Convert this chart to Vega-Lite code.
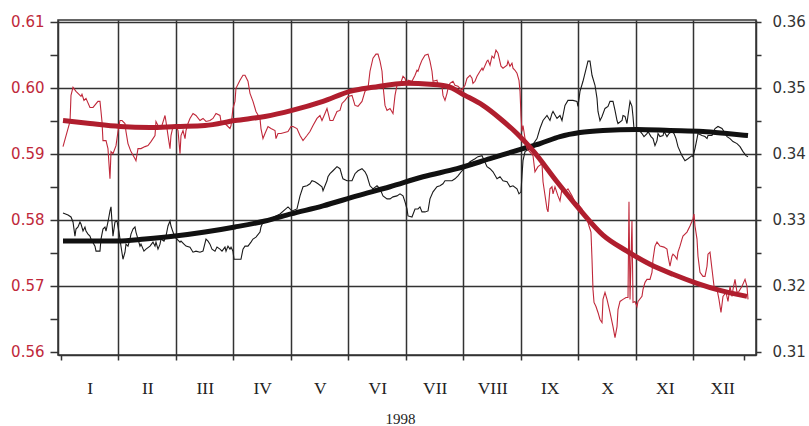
{
"$schema":"https://vega.github.io/schema/vega-lite/v6.json",
"width":698,"height":335,"autosize":"none",
"padding":{"left":58,"top":20,"right":53,"bottom":71},
"background":"white",
"config":{"view":{"stroke":"#333","strokeWidth":1.5}},
"datasets":{
"redRaw":[{"m":0.035,"v":0.5911},{"m":0.122,"v":0.59384},{"m":0.157,"v":0.59491},{"m":0.174,"v":0.59887},{"m":0.209,"v":0.60009},{"m":0.261,"v":0.59948},{"m":0.348,"v":0.59872},{"m":0.365,"v":0.59903},{"m":0.4,"v":0.59811},{"m":0.435,"v":0.59842},{"m":0.504,"v":0.59704},{"m":0.557,"v":0.59704},{"m":0.643,"v":0.59796},{"m":0.678,"v":0.59796},{"m":0.696,"v":0.59643},{"m":0.713,"v":0.59491},{"m":0.73,"v":0.59201},{"m":0.783,"v":0.59201},{"m":0.817,"v":0.5908},{"m":0.852,"v":0.58622},{"m":0.87,"v":0.59034},{"m":0.904,"v":0.59003},{"m":0.957,"v":0.59125},{"m":0.991,"v":0.59339},{"m":1.026,"v":0.59506},{"m":1.061,"v":0.59506},{"m":1.113,"v":0.5946},{"m":1.13,"v":0.59339},{"m":1.165,"v":0.59156},{"m":1.217,"v":0.59034},{"m":1.287,"v":0.58927},{"m":1.304,"v":0.58897},{"m":1.339,"v":0.5908},{"m":1.391,"v":0.5908},{"m":1.461,"v":0.5911},{"m":1.513,"v":0.59125},{"m":1.565,"v":0.59186},{"m":1.635,"v":0.59278},{"m":1.652,"v":0.59491},{"m":1.687,"v":0.5943},{"m":1.739,"v":0.59384},{"m":1.809,"v":0.59582},{"m":1.826,"v":0.59491},{"m":1.861,"v":0.59278},{"m":1.896,"v":0.5908},{"m":1.913,"v":0.59278},{"m":1.948,"v":0.59415},{"m":2.0,"v":0.5943},{"m":2.035,"v":0.59354},{"m":2.07,"v":0.59003},{"m":2.087,"v":0.59278},{"m":2.122,"v":0.59354},{"m":2.157,"v":0.59232},{"m":2.174,"v":0.59354},{"m":2.209,"v":0.5946},{"m":2.243,"v":0.59537},{"m":2.296,"v":0.59613},{"m":2.348,"v":0.59582},{"m":2.417,"v":0.59506},{"m":2.47,"v":0.59537},{"m":2.522,"v":0.59491},{"m":2.591,"v":0.59506},{"m":2.643,"v":0.59537},{"m":2.696,"v":0.59613},{"m":2.765,"v":0.59582},{"m":2.783,"v":0.59491},{"m":2.852,"v":0.5946},{"m":2.904,"v":0.59415},{"m":2.939,"v":0.59384},{"m":2.957,"v":0.5943},{"m":2.991,"v":0.59689},{"m":3.026,"v":0.59796},{"m":3.043,"v":0.59994},{"m":3.113,"v":0.60116},{"m":3.165,"v":0.60192},{"m":3.2,"v":0.60192},{"m":3.252,"v":0.60101},{"m":3.287,"v":0.59918},{"m":3.339,"v":0.59796},{"m":3.391,"v":0.59643},{"m":3.461,"v":0.59537},{"m":3.478,"v":0.59384},{"m":3.513,"v":0.59232},{"m":3.548,"v":0.59308},{"m":3.6,"v":0.59415},{"m":3.652,"v":0.59384},{"m":3.722,"v":0.59354},{"m":3.739,"v":0.59232},{"m":3.774,"v":0.59308},{"m":3.826,"v":0.59308},{"m":3.948,"v":0.59339},{"m":4.0,"v":0.59415},{"m":4.035,"v":0.59415},{"m":4.104,"v":0.59384},{"m":4.157,"v":0.59278},{"m":4.209,"v":0.59201},{"m":4.278,"v":0.59278},{"m":4.33,"v":0.59339},{"m":4.383,"v":0.5943},{"m":4.452,"v":0.59537},{"m":4.504,"v":0.59582},{"m":4.539,"v":0.59506},{"m":4.591,"v":0.59613},{"m":4.626,"v":0.59689},{"m":4.678,"v":0.59506},{"m":4.73,"v":0.59506},{"m":4.8,"v":0.59643},{"m":4.852,"v":0.59659},{"m":4.887,"v":0.59765},{"m":4.939,"v":0.59811},{"m":4.991,"v":0.59872},{"m":5.061,"v":0.59887},{"m":5.113,"v":0.59735},{"m":5.165,"v":0.5972},{"m":5.235,"v":0.59796},{"m":5.287,"v":0.59948},{"m":5.339,"v":0.59994},{"m":5.374,"v":0.60253},{"m":5.426,"v":0.60451},{"m":5.478,"v":0.60512},{"m":5.513,"v":0.60512},{"m":5.548,"v":0.60406},{"m":5.583,"v":0.60253},{"m":5.6,"v":0.6004},{"m":5.635,"v":0.59735},{"m":5.67,"v":0.59659},{"m":5.722,"v":0.59689},{"m":5.774,"v":0.59613},{"m":5.809,"v":0.59887},{"m":5.843,"v":0.6004},{"m":5.896,"v":0.6004},{"m":5.948,"v":0.60177},{"m":5.983,"v":0.60146},{"m":6.017,"v":0.6004},{"m":6.035,"v":0.60116},{"m":6.104,"v":0.60101},{"m":6.157,"v":0.60192},{"m":6.191,"v":0.60268},{"m":6.209,"v":0.60253},{"m":6.243,"v":0.60345},{"m":6.278,"v":0.60421},{"m":6.33,"v":0.60497},{"m":6.383,"v":0.60512},{"m":6.417,"v":0.60406},{"m":6.452,"v":0.60253},{"m":6.47,"v":0.60101},{"m":6.539,"v":0.60116},{"m":6.557,"v":0.6004},{"m":6.626,"v":0.60025},{"m":6.643,"v":0.59887},{"m":6.678,"v":0.59811},{"m":6.713,"v":0.59918},{"m":6.73,"v":0.59994},{"m":6.765,"v":0.6007},{"m":6.817,"v":0.60101},{"m":6.852,"v":0.6004},{"m":6.904,"v":0.60025},{"m":6.974,"v":0.59964},{"m":6.991,"v":0.59994},{"m":7.026,"v":0.6004},{"m":7.061,"v":0.60146},{"m":7.113,"v":0.60192},{"m":7.148,"v":0.60146},{"m":7.165,"v":0.6007},{"m":7.2,"v":0.60101},{"m":7.235,"v":0.60177},{"m":7.287,"v":0.60253},{"m":7.322,"v":0.60299},{"m":7.339,"v":0.60268},{"m":7.409,"v":0.60406},{"m":7.426,"v":0.60421},{"m":7.461,"v":0.60345},{"m":7.496,"v":0.60482},{"m":7.53,"v":0.60451},{"m":7.565,"v":0.60573},{"m":7.6,"v":0.60528},{"m":7.652,"v":0.60329},{"m":7.687,"v":0.60299},{"m":7.757,"v":0.60345},{"m":7.774,"v":0.60406},{"m":7.809,"v":0.60329},{"m":7.843,"v":0.60375},{"m":7.861,"v":0.60299},{"m":7.896,"v":0.60268},{"m":7.93,"v":0.60223},{"m":7.965,"v":0.60116},{"m":7.983,"v":0.59948},{"m":8.0,"v":0.59582},{"m":8.017,"v":0.59339},{"m":8.035,"v":0.5943},{"m":8.07,"v":0.59232},{"m":8.104,"v":0.5908},{"m":8.209,"v":0.58973},{"m":8.243,"v":0.58729},{"m":8.296,"v":0.58806},{"m":8.365,"v":0.58851},{"m":8.383,"v":0.58577},{"m":8.452,"v":0.58165},{"m":8.47,"v":0.5812},{"m":8.504,"v":0.5847},{"m":8.539,"v":0.58501},{"m":8.557,"v":0.58394},{"m":8.591,"v":0.58501},{"m":8.643,"v":0.58363},{"m":8.678,"v":0.58287},{"m":8.713,"v":0.5847},{"m":8.765,"v":0.58424},{"m":8.817,"v":0.5847},{"m":8.887,"v":0.58363},{"m":8.939,"v":0.58272},{"m":8.991,"v":0.58241},{"m":9.061,"v":0.58165},{"m":9.113,"v":0.58043},{"m":9.148,"v":0.58013},{"m":9.183,"v":0.57906},{"m":9.217,"v":0.57814},{"m":9.235,"v":0.57402},{"m":9.252,"v":0.56945},{"m":9.27,"v":0.56747},{"m":9.304,"v":0.56686},{"m":9.339,"v":0.56595},{"m":9.374,"v":0.56488},{"m":9.409,"v":0.56442},{"m":9.426,"v":0.56793},{"m":9.461,"v":0.56899},{"m":9.496,"v":0.56793},{"m":9.548,"v":0.56595},{"m":9.6,"v":0.56381},{"m":9.635,"v":0.56214},{"m":9.67,"v":0.56381},{"m":9.687,"v":0.5664},{"m":9.722,"v":0.56762},{"m":9.774,"v":0.56793},{"m":9.826,"v":0.56823},{"m":9.861,"v":0.56823},{"m":9.878,"v":0.58272},{"m":9.896,"v":0.56793},{"m":9.93,"v":0.57982},{"m":9.948,"v":0.56747},{"m":9.983,"v":0.56762},{"m":10.017,"v":0.56686},{"m":10.035,"v":0.56762},{"m":10.104,"v":0.56839},{"m":10.122,"v":0.56945},{"m":10.157,"v":0.57052},{"m":10.191,"v":0.57097},{"m":10.243,"v":0.57097},{"m":10.278,"v":0.57204},{"m":10.296,"v":0.57402},{"m":10.33,"v":0.57601},{"m":10.365,"v":0.57662},{"m":10.417,"v":0.57601},{"m":10.487,"v":0.57586},{"m":10.539,"v":0.57555},{"m":10.557,"v":0.57448},{"m":10.591,"v":0.57296},{"m":10.626,"v":0.57448},{"m":10.643,"v":0.57479},{"m":10.678,"v":0.57448},{"m":10.713,"v":0.57402},{"m":10.73,"v":0.57509},{"m":10.765,"v":0.57601},{"m":10.8,"v":0.57708},{"m":10.817,"v":0.57753},{"m":10.887,"v":0.57814},{"m":10.939,"v":0.57906},{"m":10.991,"v":0.58013},{"m":11.009,"v":0.58089},{"m":11.026,"v":0.57906},{"m":11.061,"v":0.57708},{"m":11.078,"v":0.57448},{"m":11.113,"v":0.57204},{"m":11.165,"v":0.57143},{"m":11.2,"v":0.57143},{"m":11.235,"v":0.57296},{"m":11.252,"v":0.57479},{"m":11.287,"v":0.57509},{"m":11.322,"v":0.5725},{"m":11.357,"v":0.56991},{"m":11.409,"v":0.56945},{"m":11.443,"v":0.56793},{"m":11.478,"v":0.56595},{"m":11.513,"v":0.56839},{"m":11.565,"v":0.56899},{"m":11.6,"v":0.56762},{"m":11.635,"v":0.56991},{"m":11.67,"v":0.56839},{"m":11.687,"v":0.56945},{"m":11.722,"v":0.57097},{"m":11.757,"v":0.56899},{"m":11.791,"v":0.56915},{"m":11.843,"v":0.56991},{"m":11.896,"v":0.57097},{"m":11.93,"v":0.56991},{"m":11.948,"v":0.56793}],
"redSmooth":[{"m":0.035,"v":0.59506},{"m":0.504,"v":0.5946},{"m":1.026,"v":0.59415},{"m":1.548,"v":0.594},{"m":2.0,"v":0.59415},{"m":2.504,"v":0.5943},{"m":3.026,"v":0.59506},{"m":3.548,"v":0.59567},{"m":4.017,"v":0.59659},{"m":4.557,"v":0.59796},{"m":5.026,"v":0.59948},{"m":5.426,"v":0.60009},{"m":6.017,"v":0.6007},{"m":6.417,"v":0.60055},{"m":6.713,"v":0.60025},{"m":7.026,"v":0.59887},{"m":7.339,"v":0.59735},{"m":7.635,"v":0.59537},{"m":7.93,"v":0.59308},{"m":8.209,"v":0.59049},{"m":8.626,"v":0.58577},{"m":9.026,"v":0.5815},{"m":9.426,"v":0.57768},{"m":9.843,"v":0.57525},{"m":10.243,"v":0.57326},{"m":10.643,"v":0.57174},{"m":11.061,"v":0.57037},{"m":11.461,"v":0.5693},{"m":11.93,"v":0.56839}],
"blackRaw":[{"m":0.035,"v":0.33104},{"m":0.122,"v":0.33074},{"m":0.174,"v":0.33043},{"m":0.209,"v":0.32967},{"m":0.243,"v":0.32753},{"m":0.261,"v":0.3286},{"m":0.296,"v":0.32891},{"m":0.33,"v":0.32967},{"m":0.348,"v":0.32936},{"m":0.383,"v":0.3283},{"m":0.417,"v":0.32891},{"m":0.435,"v":0.3283},{"m":0.47,"v":0.32784},{"m":0.504,"v":0.32753},{"m":0.522,"v":0.32708},{"m":0.591,"v":0.32601},{"m":0.609,"v":0.32525},{"m":0.678,"v":0.32525},{"m":0.696,"v":0.32708},{"m":0.73,"v":0.3286},{"m":0.765,"v":0.32891},{"m":0.783,"v":0.3283},{"m":0.817,"v":0.32967},{"m":0.852,"v":0.33135},{"m":0.87,"v":0.33196},{"m":0.887,"v":0.32967},{"m":0.904,"v":0.32753},{"m":0.939,"v":0.32967},{"m":0.974,"v":0.32982},{"m":1.009,"v":0.32814},{"m":1.043,"v":0.32601},{"m":1.078,"v":0.32402},{"m":1.113,"v":0.32509},{"m":1.13,"v":0.32631},{"m":1.165,"v":0.32601},{"m":1.2,"v":0.32708},{"m":1.217,"v":0.32784},{"m":1.252,"v":0.3286},{"m":1.287,"v":0.32891},{"m":1.304,"v":0.32814},{"m":1.339,"v":0.32708},{"m":1.374,"v":0.32601},{"m":1.391,"v":0.32631},{"m":1.443,"v":0.32525},{"m":1.478,"v":0.32555},{"m":1.548,"v":0.32601},{"m":1.6,"v":0.32662},{"m":1.635,"v":0.32601},{"m":1.652,"v":0.32662},{"m":1.687,"v":0.32555},{"m":1.722,"v":0.32631},{"m":1.739,"v":0.32708},{"m":1.791,"v":0.32677},{"m":1.826,"v":0.32753},{"m":1.861,"v":0.32906},{"m":1.896,"v":0.32982},{"m":1.913,"v":0.32906},{"m":1.948,"v":0.32814},{"m":1.983,"v":0.32738},{"m":2.017,"v":0.32708},{"m":2.07,"v":0.32662},{"m":2.087,"v":0.32677},{"m":2.139,"v":0.32631},{"m":2.174,"v":0.32601},{"m":2.243,"v":0.32586},{"m":2.296,"v":0.32509},{"m":2.348,"v":0.32525},{"m":2.417,"v":0.32509},{"m":2.47,"v":0.32525},{"m":2.522,"v":0.32708},{"m":2.557,"v":0.32677},{"m":2.591,"v":0.32631},{"m":2.626,"v":0.32555},{"m":2.678,"v":0.32525},{"m":2.713,"v":0.32586},{"m":2.765,"v":0.32555},{"m":2.8,"v":0.32525},{"m":2.852,"v":0.32586},{"m":2.87,"v":0.32525},{"m":2.904,"v":0.32601},{"m":2.939,"v":0.32555},{"m":2.957,"v":0.32586},{"m":2.991,"v":0.32525},{"m":3.009,"v":0.32402},{"m":3.078,"v":0.32402},{"m":3.13,"v":0.32402},{"m":3.165,"v":0.32555},{"m":3.2,"v":0.32601},{"m":3.252,"v":0.32601},{"m":3.304,"v":0.32662},{"m":3.339,"v":0.32708},{"m":3.391,"v":0.32738},{"m":3.461,"v":0.32814},{"m":3.478,"v":0.32891},{"m":3.513,"v":0.32967},{"m":3.635,"v":0.33013},{"m":3.809,"v":0.33089},{"m":3.948,"v":0.33196},{"m":4.017,"v":0.33135},{"m":4.104,"v":0.33165},{"m":4.157,"v":0.33363},{"m":4.209,"v":0.33501},{"m":4.278,"v":0.33516},{"m":4.33,"v":0.33546},{"m":4.365,"v":0.33592},{"m":4.417,"v":0.33577},{"m":4.47,"v":0.33546},{"m":4.539,"v":0.33501},{"m":4.557,"v":0.3344},{"m":4.591,"v":0.33516},{"m":4.626,"v":0.33592},{"m":4.643,"v":0.33653},{"m":4.678,"v":0.33699},{"m":4.73,"v":0.33744},{"m":4.8,"v":0.33806},{"m":4.852,"v":0.33775},{"m":4.887,"v":0.33668},{"m":4.904,"v":0.33622},{"m":4.974,"v":0.33592},{"m":5.061,"v":0.33592},{"m":5.113,"v":0.33699},{"m":5.165,"v":0.33744},{"m":5.235,"v":0.33775},{"m":5.287,"v":0.33729},{"m":5.322,"v":0.33668},{"m":5.374,"v":0.33516},{"m":5.426,"v":0.3347},{"m":5.496,"v":0.33516},{"m":5.548,"v":0.3347},{"m":5.6,"v":0.33363},{"m":5.67,"v":0.33318},{"m":5.722,"v":0.33318},{"m":5.774,"v":0.33348},{"m":5.843,"v":0.33363},{"m":5.896,"v":0.33394},{"m":5.948,"v":0.33363},{"m":5.983,"v":0.33272},{"m":6.017,"v":0.33165},{"m":6.035,"v":0.33059},{"m":6.104,"v":0.33043},{"m":6.157,"v":0.33165},{"m":6.209,"v":0.33165},{"m":6.243,"v":0.33196},{"m":6.278,"v":0.3312},{"m":6.33,"v":0.3312},{"m":6.383,"v":0.33135},{"m":6.417,"v":0.33318},{"m":6.47,"v":0.33424},{"m":6.539,"v":0.33501},{"m":6.591,"v":0.33516},{"m":6.643,"v":0.33546},{"m":6.678,"v":0.33592},{"m":6.73,"v":0.33592},{"m":6.8,"v":0.33592},{"m":6.852,"v":0.33622},{"m":6.904,"v":0.33668},{"m":6.974,"v":0.33744},{"m":7.043,"v":0.33806},{"m":7.113,"v":0.33881},{"m":7.2,"v":0.33927},{"m":7.252,"v":0.33958},{"m":7.322,"v":0.33973},{"m":7.409,"v":0.33806},{"m":7.461,"v":0.33775},{"m":7.513,"v":0.33729},{"m":7.583,"v":0.33622},{"m":7.635,"v":0.33653},{"m":7.687,"v":0.33592},{"m":7.757,"v":0.33577},{"m":7.809,"v":0.33501},{"m":7.861,"v":0.33516},{"m":7.93,"v":0.3347},{"m":7.965,"v":0.33394},{"m":8.0,"v":0.33424},{"m":8.017,"v":0.33668},{"m":8.035,"v":0.33897},{"m":8.07,"v":0.34034},{"m":8.157,"v":0.3408},{"m":8.278,"v":0.34232},{"m":8.33,"v":0.34384},{"m":8.383,"v":0.34506},{"m":8.452,"v":0.34582},{"m":8.504,"v":0.34506},{"m":8.539,"v":0.34613},{"m":8.557,"v":0.34643},{"m":8.626,"v":0.34537},{"m":8.678,"v":0.34582},{"m":8.713,"v":0.34506},{"m":8.765,"v":0.34735},{"m":8.817,"v":0.34811},{"m":8.904,"v":0.34811},{"m":8.974,"v":0.34796},{"m":8.991,"v":0.3472},{"m":9.026,"v":0.34948},{"m":9.078,"v":0.35101},{"m":9.148,"v":0.35345},{"m":9.165,"v":0.35406},{"m":9.2,"v":0.35406},{"m":9.235,"v":0.35192},{"m":9.287,"v":0.3504},{"m":9.322,"v":0.34842},{"m":9.339,"v":0.34643},{"m":9.374,"v":0.34506},{"m":9.409,"v":0.34567},{"m":9.461,"v":0.34689},{"m":9.513,"v":0.3472},{"m":9.548,"v":0.34796},{"m":9.6,"v":0.34796},{"m":9.635,"v":0.34659},{"m":9.67,"v":0.34506},{"m":9.687,"v":0.3446},{"m":9.757,"v":0.34506},{"m":9.774,"v":0.34582},{"m":9.809,"v":0.34567},{"m":9.843,"v":0.3446},{"m":9.861,"v":0.34582},{"m":9.896,"v":0.34796},{"m":9.93,"v":0.3472},{"m":9.948,"v":0.34567},{"m":9.965,"v":0.34384},{"m":9.983,"v":0.34354},{"m":10.035,"v":0.34384},{"m":10.104,"v":0.34308},{"m":10.139,"v":0.34262},{"m":10.191,"v":0.34308},{"m":10.209,"v":0.34339},{"m":10.261,"v":0.34262},{"m":10.296,"v":0.34232},{"m":10.33,"v":0.34125},{"m":10.365,"v":0.34201},{"m":10.383,"v":0.34308},{"m":10.417,"v":0.34262},{"m":10.47,"v":0.34278},{"m":10.487,"v":0.34339},{"m":10.539,"v":0.34262},{"m":10.574,"v":0.34308},{"m":10.626,"v":0.34339},{"m":10.661,"v":0.34308},{"m":10.696,"v":0.34232},{"m":10.73,"v":0.3411},{"m":10.8,"v":0.33973},{"m":10.852,"v":0.33897},{"m":10.904,"v":0.33927},{"m":10.974,"v":0.33973},{"m":10.991,"v":0.33958},{"m":11.026,"v":0.3408},{"m":11.061,"v":0.34232},{"m":11.078,"v":0.34308},{"m":11.148,"v":0.34278},{"m":11.2,"v":0.34262},{"m":11.235,"v":0.34232},{"m":11.252,"v":0.34278},{"m":11.322,"v":0.34278},{"m":11.374,"v":0.34384},{"m":11.426,"v":0.34415},{"m":11.496,"v":0.34384},{"m":11.53,"v":0.34339},{"m":11.583,"v":0.34262},{"m":11.635,"v":0.34232},{"m":11.687,"v":0.34186},{"m":11.757,"v":0.34156},{"m":11.809,"v":0.3411},{"m":11.861,"v":0.34034},{"m":11.913,"v":0.33973},{"m":11.948,"v":0.33958}],
"blackSmooth":[{"m":0.035,"v":0.32677},{"m":0.522,"v":0.32677},{"m":0.991,"v":0.32677},{"m":1.461,"v":0.32708},{"m":1.983,"v":0.32753},{"m":2.504,"v":0.32814},{"m":3.026,"v":0.32891},{"m":3.548,"v":0.32982},{"m":4.0,"v":0.33089},{"m":4.557,"v":0.33211},{"m":5.148,"v":0.33363},{"m":5.722,"v":0.33501},{"m":6.296,"v":0.33653},{"m":6.887,"v":0.33775},{"m":7.461,"v":0.33927},{"m":8.035,"v":0.3408},{"m":8.33,"v":0.34156},{"m":8.678,"v":0.34262},{"m":9.026,"v":0.34323},{"m":9.426,"v":0.34354},{"m":10.017,"v":0.34369},{"m":10.591,"v":0.34354},{"m":11.165,"v":0.34339},{"m":11.583,"v":0.34308},{"m":11.948,"v":0.34278}]
},
"encoding":{"x":{"field":"m","type":"quantitative","scale":{"domain":[-0.052,12.087],"nice":false,"zero":false},
 "axis":{"values":[0,1,2,3,4,5,6,7,8,9,10,11,11.88],
  "labelExpr":"datum.value > 11.5 ? '' : ['I','II','III','IV','V','VI','VII','VIII','IX','X','XI','XII'][round(datum.value)]",
  "labelOffset":28.75,"labelFont":"Liberation Serif","labelFontSize":17.5,"labelColor":"#222","labelPadding":19,"labelFlush":false,"labelOverlap":false,"labelBound":false,
  "tickSize":5,"tickColor":"#333","tickWidth":1.5,"domainColor":"#333","domainWidth":1.5,
  "grid":true,"gridColor":"#333","gridWidth":1.5,"gridOpacity":{"condition":{"test":"datum.value < 0.5 || datum.value > 11.5","value":0},"value":1},
  "title":"1998","titleFont":"Liberation Serif","titleFontSize":15,"titleFontWeight":"normal","titleColor":"#222",
  "titleX":342,"titleY":63,"titleAlign":"center","titleBaseline":"middle","titleAnchor":"start"}}},
"layer":[
 {"encoding":{"y":{"field":"v","type":"quantitative","scale":{"domain":[0.3095,0.3603],"nice":false,"zero":false},
   "axis":{"orient":"right","values":[0.31,0.315,0.32,0.325,0.33,0.335,0.34,0.345,0.35,0.355,0.36],
    "labelExpr":"round(datum.value*1000) % 10 == 0 ? format(datum.value, '.2f') : ''",
    "labelFont":"DejaVu Sans","labelFontSize":15,"labelColor":"#333","labelPadding":11,"labelOverlap":false,"labelFlush":false,"labelBound":false,
    "tickSize":5,"tickColor":"#333","tickWidth":1.5,"domainColor":"#333","domainWidth":1.5,"grid":false,"title":null}}},
  "layer":[
   {"data":{"name":"blackRaw"},"mark":{"type":"line","color":"#1a1a1a","strokeWidth":1.1}},
   {"data":{"name":"blackSmooth"},"mark":{"type":"line","color":"#111111","strokeWidth":5,"interpolate":"monotone"}}
  ]},
 {"encoding":{"y":{"field":"v","type":"quantitative","scale":{"domain":[0.5595,0.6103],"nice":false,"zero":false},
   "axis":{"orient":"left","values":[0.56,0.565,0.57,0.575,0.58,0.585,0.59,0.595,0.6,0.605,0.61],
    "labelExpr":"round(datum.value*1000) % 10 == 0 ? format(datum.value, '.2f') : ''",
    "labelFont":"DejaVu Sans","labelFontSize":15,"labelColor":"#c0283a","labelPadding":6,"labelOverlap":false,"labelFlush":false,"labelBound":false,
    "tickSize":8,"tickColor":"#333","tickWidth":1.5,"domainColor":"#333","domainWidth":1.5,
    "grid":true,"gridColor":"#333","gridWidth":1.5,"gridOpacity":{"condition":{"test":"round(datum.value*1000) % 10 != 0 || datum.value < 0.565","value":0},"value":1},"title":null}}},
  "layer":[
   {"data":{"name":"redRaw"},"mark":{"type":"line","color":"#c0283a","strokeWidth":1.1}},
   {"data":{"name":"redSmooth"},"mark":{"type":"line","color":"#b01e2e","strokeWidth":5,"interpolate":"monotone"}}
  ]}
],
"resolve":{"scale":{"y":"independent"}}
}
